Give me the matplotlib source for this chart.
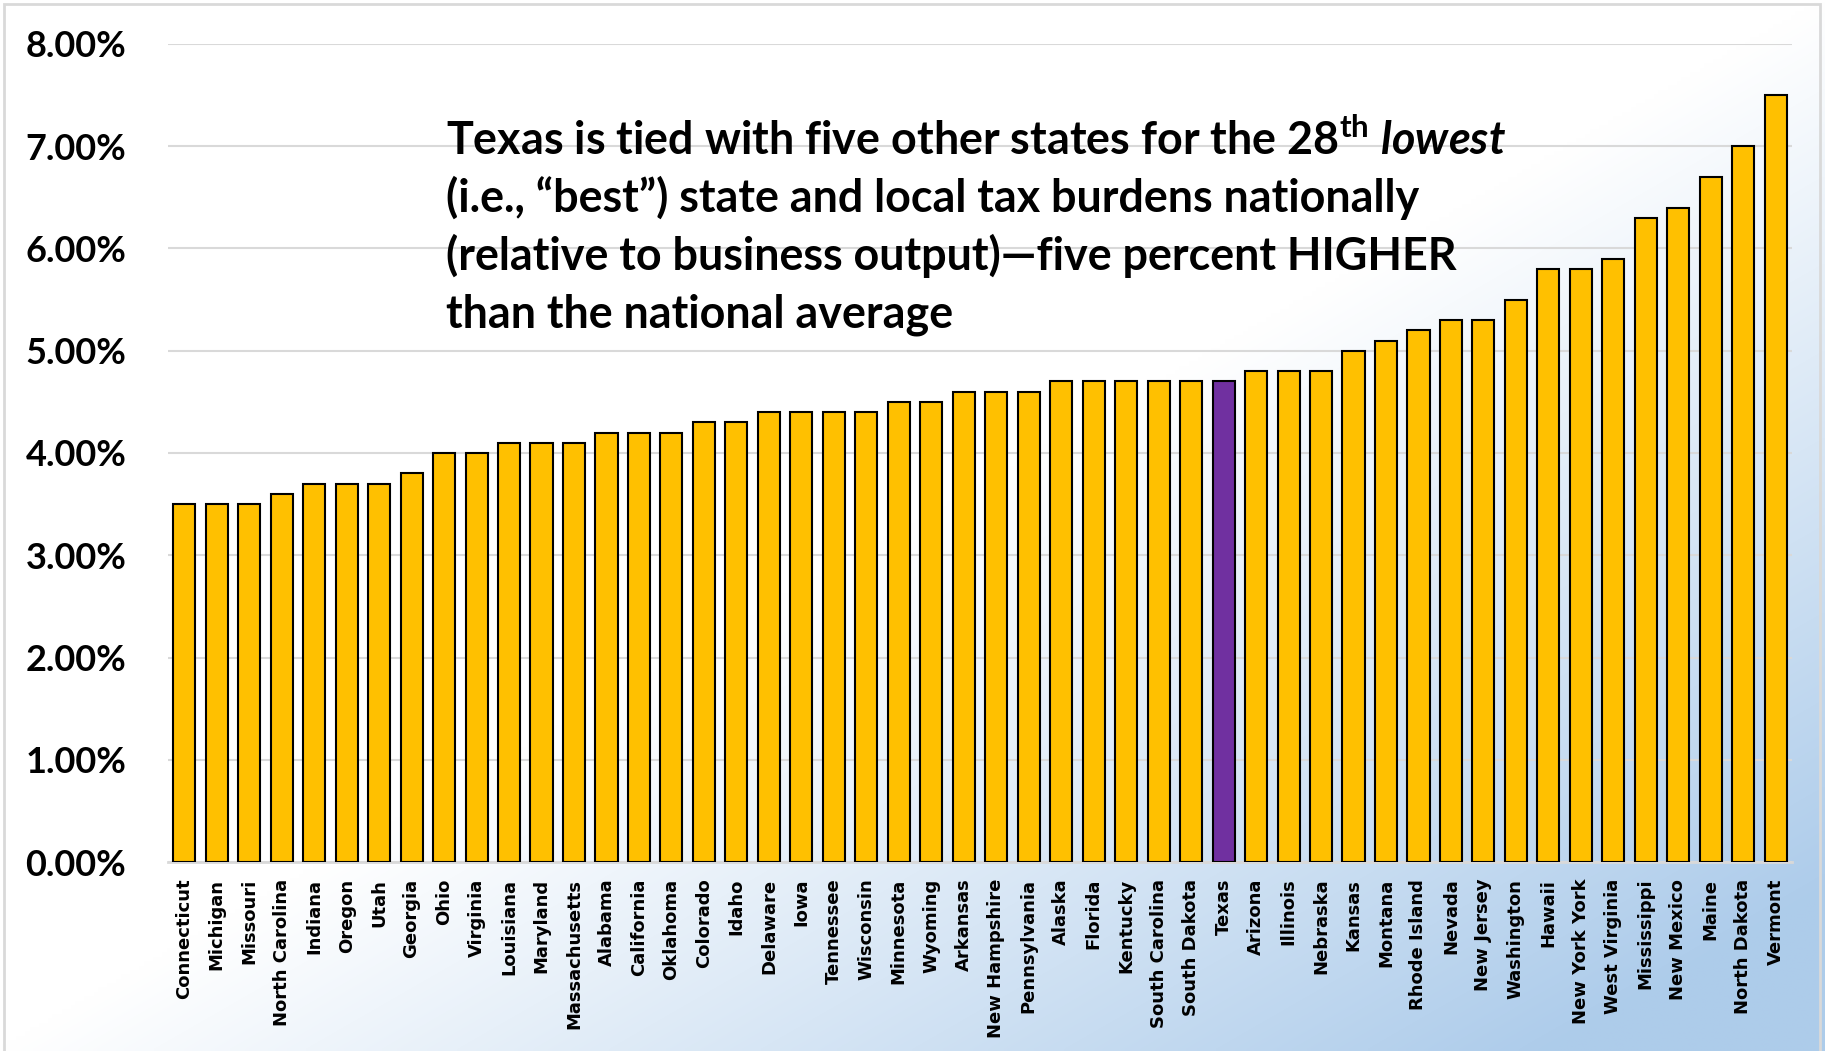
import numpy as np
import matplotlib
matplotlib.use('Agg')
import matplotlib.pyplot as plt
from matplotlib.patches import Rectangle

states = ['Connecticut', 'Michigan', 'Missouri', 'North Carolina', 'Indiana', 'Oregon',
          'Utah', 'Georgia', 'Ohio', 'Virginia', 'Louisiana', 'Maryland', 'Massachusetts',
          'Alabama', 'California', 'Oklahoma', 'Colorado', 'Idaho', 'Delaware', 'Iowa',
          'Tennessee', 'Wisconsin', 'Minnesota', 'Wyoming', 'Arkansas', 'New Hampshire',
          'Pennsylvania', 'Alaska', 'Florida', 'Kentucky', 'South Carolina', 'South Dakota',
          'Texas', 'Arizona', 'Illinois', 'Nebraska', 'Kansas', 'Montana', 'Rhode Island',
          'Nevada', 'New Jersey', 'Washington', 'Hawaii', 'New York York', 'West Virginia',
          'Mississippi', 'New Mexico', 'Maine', 'North Dakota', 'Vermont']
burden = [3.5, 3.5, 3.5, 3.6, 3.7, 3.7, 3.7, 3.8, 4.0, 4.0, 4.1, 4.1, 4.1,
          4.2, 4.2, 4.2, 4.3, 4.3, 4.4, 4.4, 4.4, 4.4, 4.5, 4.5, 4.6, 4.6,
          4.6, 4.7, 4.7, 4.7, 4.7, 4.7, 4.7, 4.8, 4.8, 4.8, 5.0, 5.1, 5.2,
          5.3, 5.3, 5.5, 5.8, 5.8, 5.9, 6.3, 6.4, 6.7, 7.0, 7.5]
highlight = 'Texas'
yticks = [0, 1, 2, 3, 4, 5, 6, 7, 8]

note_lines = [
    r'Texas is tied with five other states for the 28$^{\mathbf{th}}$ $\mathit{lowest}$',
    '(i.e., \u201cbest\u201d) state and local tax burdens nationally',
    '(relative to business output)\u2014five percent HIGHER',
    'than the national average',
]

plt.rcParams['mathtext.fontset'] = 'custom'
plt.rcParams['mathtext.bf'] = 'Lato:bold'
plt.rcParams['mathtext.it'] = 'Lato:italic:bold'
plt.rcParams['mathtext.rm'] = 'Lato:bold'

W, H = 1825, 1051
fig = plt.figure(figsize=(W / 100, H / 100), dpi=100)

# background gradient, white top-left to light blue bottom-right
bg = fig.add_axes([0, 0, 1, 1], zorder=-2)
xx, yy = np.meshgrid(np.linspace(0, 1, 400), np.linspace(0, 1, 240))
t = np.clip((xx + yy - 1.0) / 0.85, 0, 1)
blue = np.array([0.68, 0.80, 0.92])
img = 1 - t[..., None] * (1 - blue)
bg.imshow(img, extent=[0, 1, 1, 0], aspect='auto', interpolation='bilinear')
bg.set_xlim(0, 1)
bg.set_ylim(1, 0)
bg.axis('off')

fig.patches.append(Rectangle((4 / W, -0.01), (1820 - 4) / W, 1 - 4 / H + 0.01,
                             transform=fig.transFigure, fill=False,
                             edgecolor='#d9d9d9', linewidth=2))

ax = fig.add_axes([168 / W, 1 - 862 / H, (1792 - 168) / W, (862 - 44) / H])
ax.set_facecolor('none')

x = np.arange(len(states))
colors = ['#7030A0' if s == highlight else '#FFC000' for s in states]
ax.bar(x, burden, width=0.68, color=colors, edgecolor='black', linewidth=1.5, zorder=3)

ax.set_xlim(-0.5, len(states) - 0.5)
ax.set_ylim(0, 8)
ax.set_yticks(yticks)
ax.set_yticklabels([f'{v:.2f}%' for v in yticks], fontsize=26, fontweight='bold',
                   family='Lato')
ax.set_xticks(x)
ax.set_xticklabels(states, rotation=90, fontsize=13, fontweight='bold',
                   family='DejaVu Sans')
ax.tick_params(axis='y', length=0, pad=30)
ax.tick_params(axis='x', length=0, pad=12)
ax.grid(axis='y', color='#d9d9d9', linewidth=1.5, zorder=0)
for s in ['top', 'right', 'left']:
    ax.spines[s].set_visible(False)
ax.spines['bottom'].set_color('#d9d9d9')
ax.spines['bottom'].set_linewidth(2)

baselines = [155, 212, 270, 327]
for line, yb in zip(note_lines, baselines):
    fig.text(446 / W, 1 - yb / H, line, fontsize=32.3, fontweight='bold', family='Lato',
             ha='left', va='baseline')

fig.savefig('out.png', dpi=100)
